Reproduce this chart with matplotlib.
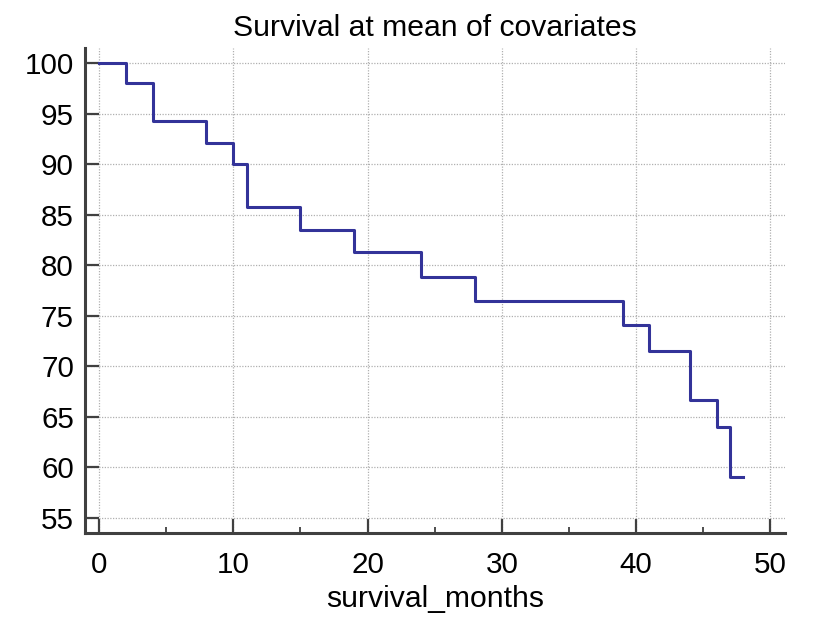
import matplotlib
matplotlib.use("Agg")
import matplotlib.pyplot as plt
from matplotlib.ticker import MultipleLocator

plt.rcParams['font.family'] = ['Liberation Sans', 'DejaVu Sans']

# Step function data (time in months, survival %)
times = [0, 2, 4, 8, 10, 11, 15, 19, 24, 28, 39, 41, 44, 46, 47, 48]
survival = [100, 98.0, 94.25, 92.1, 90.0, 85.75, 83.5, 81.3, 78.8, 76.45,
            74.1, 71.5, 66.7, 64.0, 59.05, 59.05]

title = "Survival at mean of covariates"
xlabel = "survival_months"
xticks = [0, 10, 20, 30, 40, 50]
yticks = [55, 60, 65, 70, 75, 80, 85, 90, 95, 100]

fig = plt.figure(figsize=(8.15, 6.2), dpi=100)
ax = fig.add_axes([85/815, 1-533/620, 700/815, (533-48)/620])

ax.step(times, survival, where='post', color='#333399', linewidth=2.2)

ax.set_xlim(-1.05, 51.1)
ax.set_ylim(53.5, 101.5)
ax.set_xticks(xticks)
ax.set_yticks(yticks)
ax.xaxis.set_minor_locator(MultipleLocator(5))

ax.grid(True, which='major', linestyle=(0, (1, 1.2)), color='#b0b0b0', linewidth=0.9)
ax.set_axisbelow(True)

for s in ['top', 'right']:
    ax.spines[s].set_visible(False)
for s in ['left', 'bottom']:
    ax.spines[s].set_color('#404040')
    ax.spines[s].set_linewidth(2.2)

ax.tick_params(axis='both', which='major', direction='in', length=10, width=1.6,
               color='#404040', labelsize=21.3)
ax.tick_params(axis='x', which='major', pad=13)
ax.tick_params(axis='y', which='major', pad=8)
ax.tick_params(axis='x', which='minor', direction='in', length=4.3, width=1.3, color='#404040')

ax.set_title(title, fontsize=21.7, pad=9)
ax.set_xlabel(xlabel, fontsize=21.7, labelpad=4)

fig.savefig("out.png", dpi=100)
